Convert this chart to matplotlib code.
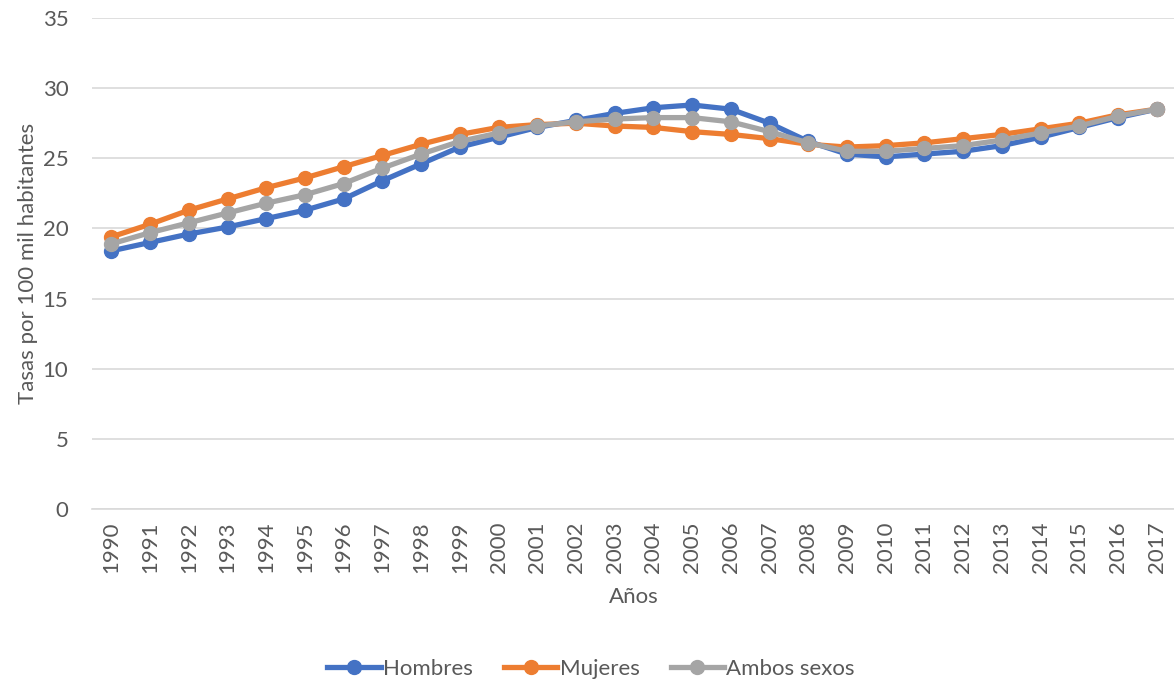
import numpy as np
import matplotlib.pyplot as plt

plt.rcParams['font.family'] = ['Lato', 'DejaVu Sans']

# datos
years = list(range(1990, 2018))
hombres = [18.4, 19.0, 19.6, 20.1, 20.7, 21.3, 22.1, 23.4, 24.6, 25.8, 26.5, 27.2, 27.7, 28.2,
           28.6, 28.8, 28.5, 27.5, 26.2, 25.3, 25.1, 25.3, 25.5, 25.9, 26.5, 27.2, 27.9, 28.5]
mujeres = [19.4, 20.3, 21.3, 22.1, 22.9, 23.6, 24.4, 25.2, 26.0, 26.7, 27.2, 27.4, 27.5, 27.3,
           27.2, 26.9, 26.7, 26.4, 26.0, 25.8, 25.9, 26.1, 26.4, 26.7, 27.1, 27.5, 28.1, 28.5]
ambos = [18.9, 19.7, 20.4, 21.1, 21.8, 22.4, 23.2, 24.3, 25.3, 26.2, 26.8, 27.3, 27.6, 27.8,
         27.9, 27.9, 27.6, 26.9, 26.1, 25.5, 25.5, 25.7, 25.9, 26.3, 26.8, 27.3, 28.0, 28.5]

x = np.arange(len(years))
fig = plt.figure(figsize=(11.74, 6.83), dpi=100)
ax = fig.add_axes([92/1174, 1 - 509/683, (1176-92)/1174, (509-18)/683])

tc = '#595959'
fs = 16
ax.plot(x, hombres, color='#4472C4', lw=3.8, marker='o', ms=10, label='Hombres', zorder=3)
ax.plot(x, mujeres, color='#ED7D31', lw=3.8, marker='o', ms=10, label='Mujeres', zorder=4)
ax.plot(x, ambos, color='#A5A5A5', lw=3.8, marker='o', ms=10, label='Ambos sexos', zorder=5)

ax.set_xlim(-0.5, len(years) - 0.5)
ax.set_ylim(0, 35)
ax.set_yticks(range(0, 36, 5))
ax.set_xticks(x)
ax.set_xticklabels([str(y) for y in years], rotation=90)
ax.grid(axis='y', color='#D9D9D9', lw=1.2)
ax.set_axisbelow(True)
for s in ['top', 'right', 'left']:
    ax.spines[s].set_visible(False)
ax.spines['bottom'].set_color('#D9D9D9')
ax.spines['bottom'].set_linewidth(1.2)
ax.tick_params(length=0, colors=tc, labelsize=fs)
ax.tick_params(axis='y', pad=17)
ax.tick_params(axis='x', pad=9)

ax.set_ylabel('Tasas por 100 mil habitantes', color=tc, fontsize=fs, labelpad=3)
ax.set_xlabel('Años', color=tc, fontsize=fs, labelpad=10)

ax.legend(loc='center', bbox_to_anchor=(591/1174, 1 - 669/683), bbox_transform=fig.transFigure,
          ncol=3, frameon=False, fontsize=fs, labelcolor=tc, handlelength=2.4,
          handletextpad=0.1, columnspacing=1.4)

fig.savefig('out.png', dpi=100)
